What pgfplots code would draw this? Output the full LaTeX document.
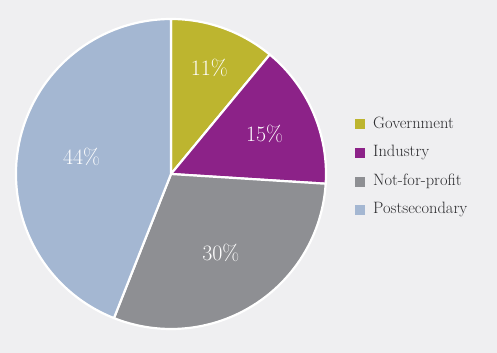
\documentclass[border=0pt]{standalone}
\usepackage{fontspec}
\usepackage{pgfplots}
\pgfplotsset{compat=1.18}
\usetikzlibrary{calc}
\definecolor{bgc}{RGB}{239,239,241}
\definecolor{gov}{RGB}{189,181,47}
\definecolor{ind}{RGB}{140,34,136}
\definecolor{nfp}{RGB}{142,143,147}
\definecolor{post}{RGB}{164,183,210}
\definecolor{txt}{RGB}{45,45,48}
\begin{document}
\begin{tikzpicture}
\fill[bgc] (0,0) rectangle (497bp,353bp);
\begin{axis}[
  scale only axis, width=497bp, height=353bp,
  xmin=0, xmax=497, ymin=0, ymax=353,
  hide axis, clip=false]
\pgfplotsextra{%
  \gdef\startang{90}%
  \foreach \v/\c/\r in {11/gov/113,15/ind/102,30/nfp/93,44/post/91}{%
    \pgfmathsetmacro\endang{\startang-3.6*\v}%
    \pgfmathsetmacro\midang{(\startang+\endang)/2}%
    \filldraw[fill=\c, draw=white, line width=2.2bp, line join=round]
      (axis cs:171,179) -- ++(\startang:155bp) arc[start angle=\startang, end angle=\endang, radius=155bp] -- cycle;
    \node[text=white, font=\fontsize{22}{26}\selectfont] at ($(axis cs:171,179)+(\midang:\r bp)$) {\v\%};
    \global\let\startang\endang
  }%
}
% legend
\pgfplotsextra{%
  \foreach \y/\c/\lab in {229/gov/Government,200/ind/Industry,171/nfp/Not-for-profit,143/post/Postsecondary}{%
    \fill[\c] (axis cs:355,\y-5) rectangle (axis cs:365,\y+5);
    \node[anchor=west, inner sep=0pt, text=txt, font=\fontsize{16.5}{19}\selectfont] at (axis cs:373,\y+1) {\lab};
  }%
}
\end{axis}
\pgfresetboundingbox
\useasboundingbox (0,0) rectangle (497bp,353bp);
\end{tikzpicture}
\end{document}
